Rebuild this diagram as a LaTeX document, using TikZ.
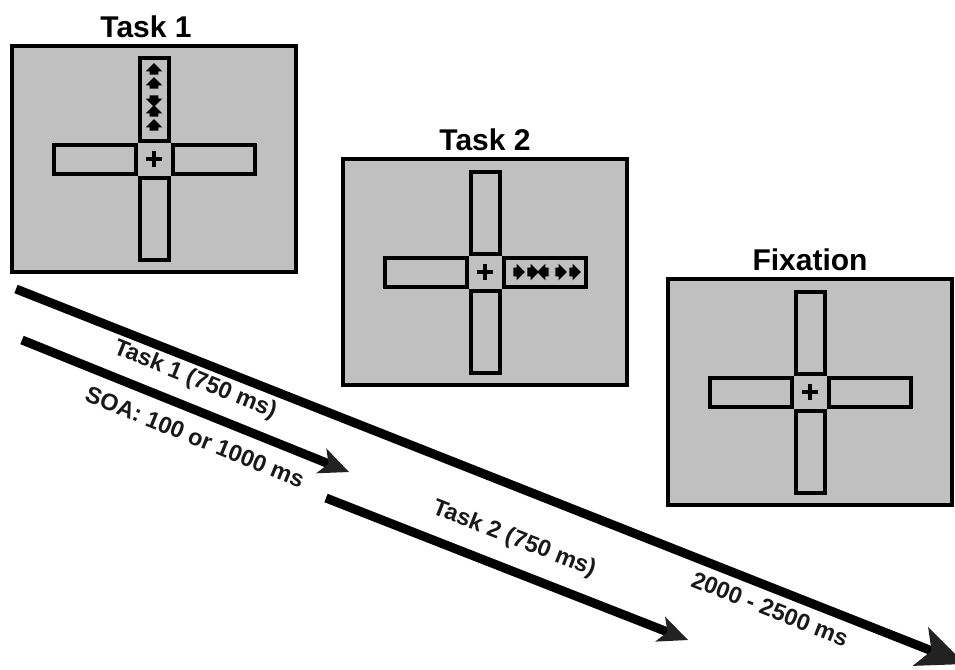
\documentclass[tikz,border=0pt]{standalone}
\usepackage{fontspec}
\setmainfont{Liberation Sans}
\usetikzlibrary{positioning,shapes.arrows,shapes.misc,arrows.meta}
\definecolor{panelgray}{RGB}{192,192,192}
\definecolor{tipgray}{RGB}{34,34,34}

\begin{document}
\begin{tikzpicture}[x=1pt,y=-1pt,
	screen/.style={draw=black,fill=panelgray,line width=4pt,minimum width=284pt,minimum height=226pt,inner sep=0pt,outer sep=0pt},
	hole/.style={minimum size=37pt,inner sep=0pt,outer sep=0pt},
	vbar/.style={draw=black,line width=4pt,minimum width=29pt,minimum height=82pt,inner sep=0pt,outer sep=0pt},
	hbar/.style={draw=black,line width=4pt,minimum width=82pt,minimum height=29pt,inner sep=0pt,outer sep=0pt},
	fix/.style={cross out,draw=black,line width=3.5pt,rotate=45,minimum size=8pt,inner sep=0pt},
	flank/.style={single arrow,fill=black,minimum height=11.5pt,inner xsep=0pt,inner ysep=4.2pt,single arrow head extend=4pt},
	title/.style={font=\bfseries\fontsize{30}{36}\selectfont,inner sep=0pt},
	timeline/.style={line width=9pt,-{Stealth[length=30pt,width=27pt,inset=8pt,line width=0pt,color=tipgray]}},
	longline/.style={line width=9pt,-{Stealth[length=48pt,width=42pt,inset=12pt,line width=0pt,color=tipgray]}},
	span/.style={font=\bfseries\fontsize{23.5}{28}\selectfont,text=black!90,inner sep=0pt}]

	\clip (0,0) rectangle (955,669);

	% screens
	\node[screen] (p1) at (154,159) {};
	\node[screen] (p2) at (485,272) {};
	\node[screen] (p3) at (810,392) {};
	\node[title,above=8pt of p1,xshift=-8pt] (t1) {Task 1};
	\node[title,above=8pt of p2] (t2) {Task 2};
	\node[title,above=8pt of p3] (t3) {Fixation};

	% Task 1 cross
	\node[hole] (c1) at (p1) {};
	\node[vbar,above=0pt of c1] (u1) {};
	\node[vbar,below=0pt of c1] (d1) {};
	\node[hbar,left=0pt of c1] (l1) {};
	\node[hbar,right=0pt of c1] (r1) {};
	\node[fix] (x1) at (c1) {};

	% Task 2 cross
	\node[hole] (c2) at (p2) {};
	\node[vbar,above=0pt of c2] (u2) {};
	\node[vbar,below=0pt of c2] (d2) {};
	\node[hbar,left=0pt of c2] (l2) {};
	\node[hbar,right=0pt of c2] (r2) {};
	\node[fix] (x2) at (c2) {};

	% Fixation cross
	\node[hole] (c3) at (p3) {};
	\node[vbar,above=0pt of c3] (u3) {};
	\node[vbar,below=0pt of c3] (d3) {};
	\node[hbar,left=0pt of c3] (l3) {};
	\node[hbar,right=0pt of c3] (r3) {};
	\node[fix] (x3) at (c3) {};

	% flankers, task 1
	\node[flank,rotate=90] (a1) at (154,71) {};
	\node[flank,rotate=90] (a2) at (154,85) {};
	\node[flank,rotate=-90] (a3) at (154,99) {};
	\node[flank,rotate=90] (a4) at (154,113) {};
	\node[flank,rotate=90] (a5) at (154,127) {};

	% flankers, task 2
	\node[flank] (b1) at (517,272) {};
	\node[flank] (b2) at (531,272) {};
	\node[flank,rotate=180] (b3) at (545,272) {};
	\node[flank] (b4) at (559,272) {};
	\node[flank] (b5) at (573,272) {};

	% time lines
	\coordinate (s0) at (16,289);
	\coordinate (e0) at (965,664);
	\coordinate (s1) at (22,340);
	\coordinate (e1) at (349,472);
	\coordinate (s2) at (326,498);
	\coordinate (e2) at (688,640);

	\draw[longline] (s0) -- (e0);
	\draw[timeline] (s1) -- (e1);
	\draw[timeline] (s2) -- (e2);

	\node[span,rotate=-22] (n1) at (195,380) {Task 1 (750 ms)};
	\node[span,rotate=-22] (n2) at (195,437) {SOA: 100 or 1000 ms};
	\node[span,rotate=-21.4] (n3) at (514,539) {Task 2 (750 ms)};
	\node[span,rotate=-21.5] (n0) at (770,609) {2000 - 2500 ms};
\end{tikzpicture}
\end{document}
